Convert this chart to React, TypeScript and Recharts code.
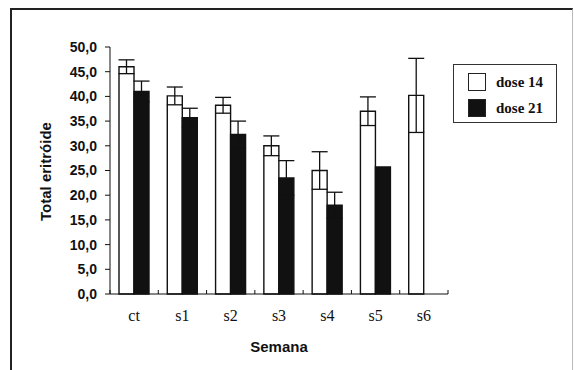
import React from 'react';
import { BarChart, Bar, XAxis, YAxis, ErrorBar, Legend, Label } from 'recharts';

const categories = ['ct', 's1', 's2', 's3', 's4', 's5', 's6'];
const dose14 = [46.0, 40.1, 38.2, 30.0, 25.0, 37.0, 40.2];
const dose14Err = [1.4, 1.8, 1.6, 2.0, 3.8, 2.9, 7.5];
const dose21: (number | null)[] = [41.0, 35.7, 32.3, 23.5, 18.0, 25.7, null];
const dose21Err: (number | null)[] = [2.1, 1.9, 2.7, 3.5, 2.6, null, null];
const yTicks = [0, 5, 10, 15, 20, 25, 30, 35, 40, 45, 50];
const seriesNames = ['dose 14', 'dose 21'];

const data = categories.map((c, i) => ({
  cat: c,
  d14: dose14[i],
  e14: dose14Err[i],
  d21: dose21[i],
  e21: dose21Err[i],
}));

const INK = '#111';
const SANS = '"Liberation Sans", Arial, sans-serif';
const SERIF = '"Liberation Serif", "Times New Roman", serif';

const XTick = (props: any) => {
  const { x, y, payload, index, visibleTicksCount } = props;
  const off = payload.offset ?? 0;
  const last = index === (visibleTicksCount ?? categories.length) - 1;
  return (
    <g>
      <line x1={x - off} x2={x - off} y1={y} y2={y - 4} stroke={INK} strokeWidth={1} />
      {last && <line x1={x + off} x2={x + off} y1={y} y2={y - 4} stroke={INK} strokeWidth={1} />}
      <text x={x} y={y + 27} textAnchor="middle" fontFamily={SERIF} fontSize={16} fill={INK}>
        {payload.value}
      </text>
    </g>
  );
};

const LegendBox = () => (
  <div
    style={{
      width: 102,
      height: 57,
      border: '1px solid #333',
      background: '#fff',
      position: 'relative',
      boxSizing: 'content-box',
    }}
  >
    {seriesNames.map((n, i) => (
      <div
        key={n}
        style={{ position: 'absolute', left: 14, top: 8 + i * 26, height: 18, display: 'flex', alignItems: 'center' }}
      >
        <div
          style={{
            width: 16,
            height: 16,
            border: '1px solid #222',
            background: i === 0 ? '#fff' : INK,
          }}
        />
        <span
          style={{
            marginLeft: 10,
            fontFamily: SERIF,
            fontWeight: 'bold',
            fontSize: 15,
            color: INK,
            whiteSpace: 'nowrap',
          }}
        >
          {n}
        </span>
      </div>
    ))}
  </div>
);

export default function App() {
  return (
    <div style={{ position: 'absolute', left: 0, top: 0, width: 574, height: 370, background: '#fff', overflow: 'hidden' }}>
      <div
        style={{
          position: 'absolute',
          left: 10,
          top: 8,
          width: 560,
          height: 400,
          borderLeft: '2px solid #222',
          borderTop: '2px solid #222',
          borderRight: '1px solid #bbb',
        }}
      />
      <div style={{ position: 'absolute', left: 0, top: 0 }}>
        <BarChart
          width={574}
          height={370}
          data={data}
          margin={{ top: 47, right: 126, bottom: 0, left: 0 }}
          barCategoryGap="19%"
          barGap={0}
        >
          <XAxis
            dataKey="cat"
            height={76}
            axisLine={{ stroke: INK, strokeWidth: 1 }}
            tickLine={false}
            tickSize={0}
            tickMargin={0}
            tick={<XTick />}
            interval={0}
          >
            <Label
              value="Semana"
              position="insideBottom"
              offset={18}
              style={{ fontFamily: SANS, fontWeight: 'bold', fontSize: 15, fill: INK }}
            />
          </XAxis>
          <YAxis
            width={110}
            domain={[0, 50]}
            ticks={yTicks}
            interval={0}
            tickSize={5}
            tickMargin={8}
            axisLine={{ stroke: INK, strokeWidth: 1 }}
            tickLine={{ stroke: INK, strokeWidth: 1 }}
            tickFormatter={(v: number) => v.toFixed(1).replace('.', ',')}
            tick={{ fontFamily: SANS, fontWeight: 'bold', fontSize: 14, fill: INK }}
          >
            <Label
              content={(p: any) => {
                const vb = p.viewBox || { x: 0, y: 47, width: 110, height: 247 };
                const cx = vb.x + 45;
                const cy = vb.y + vb.height / 2 + 1;
                return (
                  <text
                    x={cx}
                    y={cy}
                    transform={`rotate(-90, ${cx}, ${cy})`}
                    textAnchor="middle"
                    dominantBaseline="central"
                    fontFamily={SANS}
                    fontWeight="bold"
                    fontSize={15}
                    fill={INK}
                  >
                    Total eritróide
                  </text>
                );
              }}
            />
          </YAxis>
          <Legend
            layout="horizontal"
            verticalAlign="middle"
            align="center"
            content={<LegendBox />}
            wrapperStyle={{ position: 'absolute', left: 453, top: 64, width: 104, height: 59 }}
          />
          <Bar dataKey="d14" name={seriesNames[0]} barSize={15} fill="#fff" stroke={INK} strokeWidth={1.4} isAnimationActive={false}>
            <ErrorBar dataKey="e14" width={8} stroke={INK} strokeWidth={1.3} />
          </Bar>
          <Bar dataKey="d21" name={seriesNames[1]} barSize={15} fill={INK} stroke={INK} strokeWidth={1.4} isAnimationActive={false}>
            <ErrorBar dataKey="e21" width={8} stroke={INK} strokeWidth={1.3} />
          </Bar>
        </BarChart>
      </div>
    </div>
  );
}
